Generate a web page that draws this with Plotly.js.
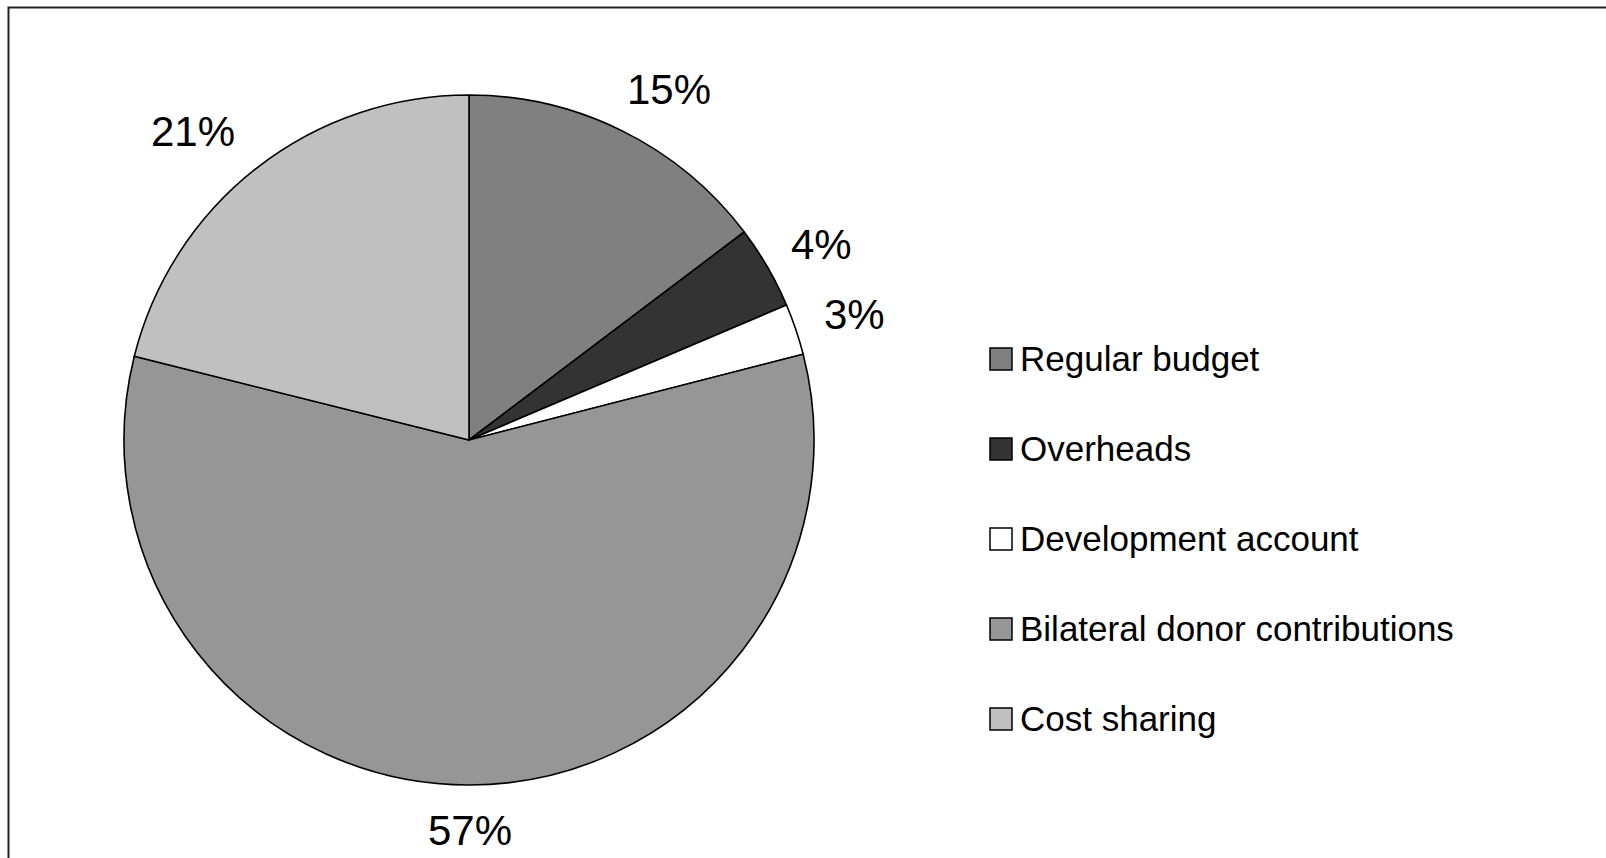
<!DOCTYPE html>
<html>
<head>
<meta charset="utf-8">
<script src="https://cdn.plot.ly/plotly-3.0.1.min.js"></script>
<style>
  html, body { margin: 0; padding: 0; background: #ffffff; }
  #chart { width: 1606px; height: 858px; }
</style>
</head>
<body>
<div id="chart"></div>
<script>
// Data
const categories = ["Regular budget", "Overheads", "Development account", "Bilateral donor contributions", "Cost sharing"];
const shares = [14.7, 3.9, 2.4, 57.9, 21.1];
const shareLabels = ["15%", "4%", "3%", "57%", "21%"];
const sliceColors = ["#808080", "#333333", "#ffffff", "#969696", "#c0c0c0"];

const W = 1606, H = 858;
const FONT = "Liberation Sans, Arial, sans-serif";
const LABEL_SIZE = 42, LEGEND_SIZE = 35;

// Pie placement (pixels -> paper)
const cx = 469, cy = 440, R = 345;
const domX = [(cx - R) / W, (cx + R) / W];
const domY = [(H - cy - R) / H, (H - cy + R) / H];

const trace = {
  type: "pie",
  labels: categories,
  values: shares,
  textinfo: "none",
  sort: false,
  direction: "clockwise",
  rotation: 0,
  marker: { colors: sliceColors, line: { color: "#000000", width: 1.6 } },
  domain: { x: domX, y: domY },
  showlegend: false,
  hoverinfo: "label+percent"
};

const shapes = [];
const annotations = [];

// Percentage labels placed outside each slice, at its mid-angle (Excel style)
const ctx = document.createElement("canvas").getContext("2d");
ctx.font = LABEL_SIZE + "px 'Liberation Sans'";
const total = shares.reduce((a, b) => a + b, 0);
let cum = 0;
shares.forEach((v, i) => {
  const mid = (cum + v / 2) / total * 2 * Math.PI;
  cum += v;
  const ux = Math.sin(mid), uy = -Math.cos(mid);
  const tw = ctx.measureText(shareLabels[i]).width;
  const px = cx + (R - 47 + 1.8 * tw) * ux;
  const py = cy + (R + 46) * uy;
  annotations.push({
    xref: "paper", yref: "paper",
    x: px / W, y: 1 - py / H,
    xanchor: "center", yanchor: "middle",
    text: shareLabels[i], showarrow: false,
    font: { family: FONT, size: LABEL_SIZE, color: "#000000" }
  });
});

// Custom legend built from the category arrays
const legX = 990, legSq = 22, legY0 = 359, legStep = 90, legTextX = 1018;
categories.forEach((c, i) => {
  const yc = legY0 + legStep * i;
  shapes.push({
    type: "rect", xref: "paper", yref: "paper",
    x0: legX / W, x1: (legX + legSq) / W,
    y0: 1 - (yc + legSq / 2) / H, y1: 1 - (yc - legSq / 2) / H,
    fillcolor: sliceColors[i], line: { color: "#000000", width: 1.5 }
  });
  annotations.push({
    xref: "paper", yref: "paper",
    x: legTextX / W, y: 1 - (yc - 1) / H,
    xanchor: "left", yanchor: "middle",
    text: c, showarrow: false,
    font: { family: FONT, size: LEGEND_SIZE, color: "#000000" }
  });
});

// Outer frame (top and left edges visible)
shapes.push({
  type: "rect", xref: "paper", yref: "paper",
  x0: 8.5 / W, x1: 1.02, y0: -0.02, y1: 1 - 7.5 / H,
  line: { color: "#222222", width: 2 }, fillcolor: "rgba(0,0,0,0)"
});

const layout = {
  width: W, height: H,
  margin: { l: 0, r: 0, t: 0, b: 0, pad: 0 },
  paper_bgcolor: "#ffffff",
  plot_bgcolor: "#ffffff",
  showlegend: false,
  font: { family: FONT, color: "#000000" },
  shapes: shapes,
  annotations: annotations
};

Plotly.newPlot("chart", [trace], layout, { displayModeBar: false, staticPlot: true });
</script>
</body>
</html>
